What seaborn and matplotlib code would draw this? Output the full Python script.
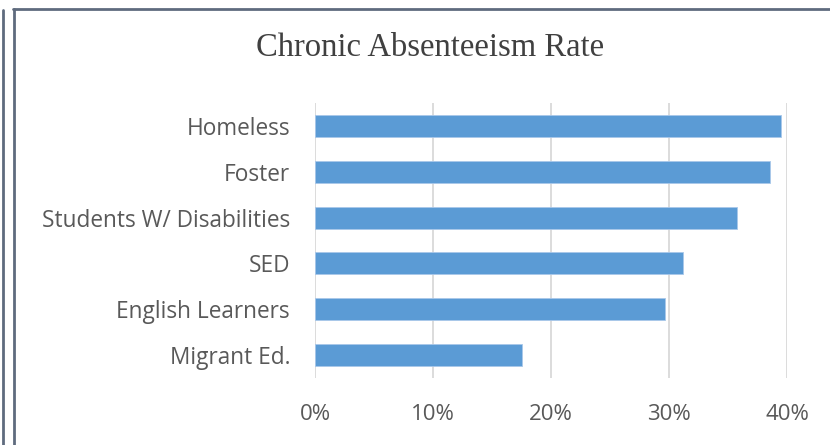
import matplotlib
matplotlib.use("Agg")
import matplotlib.pyplot as plt
import seaborn as sns
import pandas as pd
from matplotlib.lines import Line2D
from matplotlib.ticker import FuncFormatter

categories = ["Homeless", "Foster", "Students W/ Disabilities", "SED",
              "English Learners", "Migrant Ed."]
rates = [0.395, 0.386, 0.358, 0.312, 0.297, 0.175]
x_ticks = [0.0, 0.1, 0.2, 0.3, 0.4]
title = "Chronic Absenteeism Rate"

df = pd.DataFrame({"group": categories, "rate": rates})

sns.set_theme(style="white")
plt.rcParams["font.family"] = ["Open Sans", "DejaVu Sans"]

W, H = 830, 445
fig = plt.figure(figsize=(W / 100, H / 100), dpi=100)
ax = fig.add_axes([315 / W, 1 - 378 / H, (787 - 315) / W, (378 - 103) / H])

sns.barplot(data=df, x="rate", y="group", order=categories, color="#5b9bd5",
            saturation=1, width=0.48, ax=ax, edgecolor="#a9c8ea", linewidth=0.6,
            zorder=3)

ax.set_xlim(0, 0.4)
ax.set_ylim(len(categories) - 0.5, -0.5)
ax.set_xticks(x_ticks)
ax.xaxis.set_major_formatter(FuncFormatter(lambda v, p: f"{v * 100:.0f}%"))
ax.grid(axis="x", color="#d9d9d9", linewidth=1.3, zorder=0)
ax.grid(axis="y", visible=False)
for s in ax.spines.values():
    s.set_visible(False)
ax.set_xlabel("")
ax.set_ylabel("")
ax.tick_params(axis="x", length=0, pad=18.5, labelsize=16, labelcolor="#595959")
ax.tick_params(axis="y", length=0, pad=18, labelsize=16.3, labelcolor="#595959")

fig.text(430 / W, 1 - 48 / H, title, ha="center", va="center",
         fontsize=23.5, color="#404040", family=["Liberation Serif", "DejaVu Serif"])

border = "#5f6b7e"
fig.add_artist(Line2D([2.5 / W, 2.5 / W], [0, 1 - 10 / H], transform=fig.transFigure,
                      color=border, linewidth=2.0))
fig.add_artist(Line2D([14 / W, 14 / W], [0, 1 - 8.5 / H], transform=fig.transFigure,
                      color=border, linewidth=2.0))
fig.add_artist(Line2D([13 / W, 1], [1 - 8.5 / H, 1 - 8.5 / H], transform=fig.transFigure,
                      color=border, linewidth=2.0))

fig.savefig("out.png", dpi=100)
